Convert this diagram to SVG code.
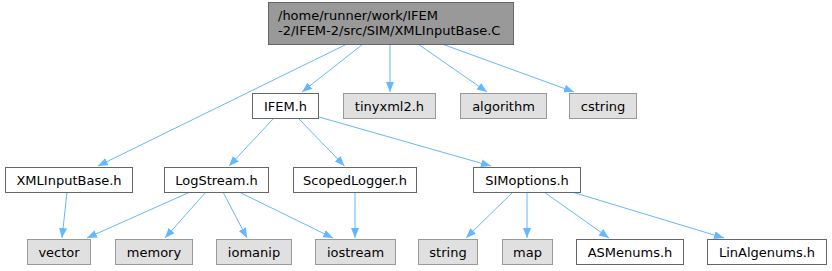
<svg xmlns="http://www.w3.org/2000/svg" width="832" height="271" viewBox="0 0 832 271">
<defs>
<style>
text{font-family:"DejaVu Sans",sans-serif;font-size:13px;fill:#000}
.c{text-anchor:middle}
.w{fill:#fff;stroke:#666}
.g{fill:#e0e0e0;stroke:#999}
.m{fill:#999;stroke:#666}
.e{stroke:#63b8ff;fill:none;stroke-width:1}
</style>
<marker id="a" markerUnits="userSpaceOnUse" markerWidth="12" markerHeight="10" refX="10" refY="4" orient="auto">
<path d="M0,0 L10,4 L0,8 z" fill="#63b8ff"/>
</marker>
</defs>
<g id="edges">
<line class="e" x1="347" y1="44" x2="98" y2="166" marker-end="url(#a)"/>
<line class="e" x1="363" y1="44" x2="302" y2="92" marker-end="url(#a)"/>
<line class="e" x1="390" y1="44" x2="390" y2="92" marker-end="url(#a)"/>
<line class="e" x1="418" y1="44" x2="487" y2="92" marker-end="url(#a)"/>
<line class="e" x1="442" y1="44" x2="574" y2="92" marker-end="url(#a)"/>
<line class="e" x1="274" y1="118" x2="229" y2="166" marker-end="url(#a)"/>
<line class="e" x1="298" y1="118" x2="344.5" y2="166" marker-end="url(#a)"/>
<line class="e" x1="319" y1="117" x2="491" y2="166" marker-end="url(#a)"/>
<line class="e" x1="67" y1="192" x2="62" y2="238" marker-end="url(#a)"/>
<line class="e" x1="190" y1="192" x2="87" y2="238" marker-end="url(#a)"/>
<line class="e" x1="206" y1="192" x2="165" y2="238" marker-end="url(#a)"/>
<line class="e" x1="223" y1="192" x2="247" y2="238" marker-end="url(#a)"/>
<line class="e" x1="239" y1="192" x2="333" y2="238" marker-end="url(#a)"/>
<line class="e" x1="355" y1="192" x2="355" y2="238" marker-end="url(#a)"/>
<line class="e" x1="513" y1="192" x2="466" y2="238" marker-end="url(#a)"/>
<line class="e" x1="527" y1="192" x2="527" y2="238" marker-end="url(#a)"/>
<line class="e" x1="544" y1="192" x2="609" y2="238" marker-end="url(#a)"/>
<line class="e" x1="572" y1="192" x2="724" y2="238" marker-end="url(#a)"/>
</g>
<g id="n_top"><rect class="m" x="268.5" y="2.5" width="245" height="42"/><text x="278" y="20">/home/runner/work/IFEM</text><text x="278" y="35">-2/IFEM-2/src/SIM/XMLInputBase.C</text></g>
<g id="n_ifem"><rect class="w" x="252.5" y="93.5" width="66" height="25"/><text class="c" x="285.5" y="110.5">IFEM.h</text></g>
<g id="n_tinyxml2"><rect class="g" x="343.5" y="93.5" width="92" height="25"/><text class="c" x="389.5" y="110.5">tinyxml2.h</text></g>
<g id="n_algorithm"><rect class="g" x="460.5" y="93.5" width="86" height="25"/><text class="c" x="503.5" y="110.5">algorithm</text></g>
<g id="n_cstring"><rect class="g" x="569.5" y="93.5" width="67" height="25"/><text class="c" x="603" y="110.5">cstring</text></g>
<g id="n_xmlinputbase"><rect class="w" x="5.5" y="167.5" width="127" height="25"/><text class="c" x="69" y="184.5">XMLInputBase.h</text></g>
<g id="n_logstream"><rect class="w" x="164.5" y="167.5" width="104" height="25"/><text class="c" x="216.5" y="184.5">LogStream.h</text></g>
<g id="n_scopedlogger"><rect class="w" x="293.5" y="167.5" width="123" height="25"/><text class="c" x="355" y="184.5">ScopedLogger.h</text></g>
<g id="n_simoptions"><rect class="w" x="473.5" y="167.5" width="107" height="25"/><text class="c" x="527" y="184.5">SIMoptions.h</text></g>
<g id="n_vector"><rect class="g" x="27.5" y="239.5" width="63" height="25"/><text class="c" x="59" y="256.5">vector</text></g>
<g id="n_memory"><rect class="g" x="115.5" y="239.5" width="77" height="25"/><text class="c" x="154" y="256.5">memory</text></g>
<g id="n_iomanip"><rect class="g" x="216.5" y="239.5" width="75" height="25"/><text class="c" x="254" y="256.5">iomanip</text></g>
<g id="n_iostream"><rect class="g" x="315.5" y="239.5" width="80" height="25"/><text class="c" x="355.5" y="256.5">iostream</text></g>
<g id="n_string"><rect class="g" x="418.5" y="239.5" width="59" height="25"/><text class="c" x="448" y="256.5">string</text></g>
<g id="n_map"><rect class="g" x="502.5" y="239.5" width="50" height="25"/><text class="c" x="527.5" y="256.5">map</text></g>
<g id="n_asmenums"><rect class="w" x="576.5" y="239.5" width="107" height="25"/><text class="c" x="630" y="256.5">ASMenums.h</text></g>
<g id="n_linalgenums"><rect class="w" x="707.5" y="239.5" width="119" height="25"/><text class="c" x="767" y="256.5">LinAlgenums.h</text></g>
</svg>
